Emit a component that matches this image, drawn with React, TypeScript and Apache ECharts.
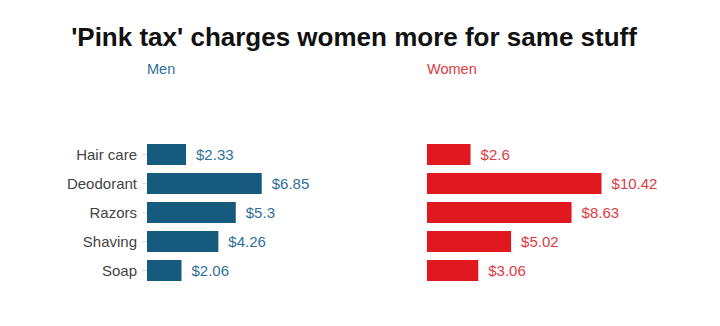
import React, { useEffect, useRef } from "react";
import * as echarts from "echarts";

const categories = ["Hair care", "Deodorant", "Razors", "Shaving", "Soap"];
const menValues = [2.33, 6.85, 5.3, 4.26, 2.06];
const womenValues = [2.6, 10.42, 8.63, 5.02, 3.06];
const titleText = "'Pink tax' charges women more for same stuff";
const seriesNames = ["Men", "Women"];

const FONT = "'Liberation Sans', Arial, sans-serif";

export default function App() {
  const ref = useRef<HTMLDivElement>(null);
  useEffect(() => {
    if (!ref.current) return;
    const chart = echarts.init(ref.current, undefined, { renderer: "svg" });
    const xMax = 12;
    chart.setOption({
      animation: false,
      backgroundColor: "#ffffff",
      textStyle: { fontFamily: FONT },
      title: [
        {
          text: titleText,
          left: 349,
          textAlign: "center",
          top: 19,
          textStyle: { fontFamily: FONT, fontSize: 26, fontWeight: "bold", color: "#111111" },
        },
        {
          text: seriesNames[0],
          left: 142,
          top: 56,
          textStyle: { fontFamily: FONT, fontSize: 14.5, fontWeight: "normal", color: "#2f6f98" },
        },
        {
          text: seriesNames[1],
          left: 422,
          top: 56,
          textStyle: { fontFamily: FONT, fontSize: 14.5, fontWeight: "normal", color: "#e03a42" },
        },
      ],
      grid: [
        { left: 147, top: 140, width: xMax * 16.75, height: 145 },
        { left: 427, top: 140, width: xMax * 16.75, height: 145 },
      ],
      xAxis: [
        { type: "value", gridIndex: 0, min: 0, max: xMax, show: false },
        { type: "value", gridIndex: 1, min: 0, max: xMax, show: false },
      ],
      yAxis: [
        {
          type: "category",
          gridIndex: 0,
          data: categories,
          inverse: true,
          axisLine: { show: false },
          axisTick: { show: true, alignWithLabel: true, length: 5, lineStyle: { color: "#dddddd" } },
          axisLabel: { fontFamily: FONT, fontSize: 15, color: "#444444", margin: 10 },
        },
        {
          type: "category",
          gridIndex: 1,
          data: categories,
          inverse: true,
          axisLine: { show: false },
          axisTick: { show: false },
          axisLabel: { show: false },
        },
      ],
      series: [
        {
          type: "bar",
          name: seriesNames[0],
          xAxisIndex: 0,
          yAxisIndex: 0,
          data: menValues,
          barWidth: 21,
          itemStyle: { color: "#165a7e" },
          label: {
            show: true,
            position: "right",
            distance: 10,
            formatter: (p: any) => "$" + p.value,
            fontFamily: FONT,
            fontSize: 15,
            color: "#2f6f98",
          },
        },
        {
          type: "bar",
          name: seriesNames[1],
          xAxisIndex: 1,
          yAxisIndex: 1,
          data: womenValues,
          barWidth: 21,
          itemStyle: { color: "#e0181f" },
          label: {
            show: true,
            position: "right",
            distance: 10,
            formatter: (p: any) => "$" + p.value,
            fontFamily: FONT,
            fontSize: 15,
            color: "#e03a42",
          },
        },
      ],
    });
    return () => chart.dispose();
  }, []);
  return (
    <div
      ref={ref}
      style={{ position: "fixed", left: 0, top: 0, width: 720, height: 326 }}
    />
  );
}
